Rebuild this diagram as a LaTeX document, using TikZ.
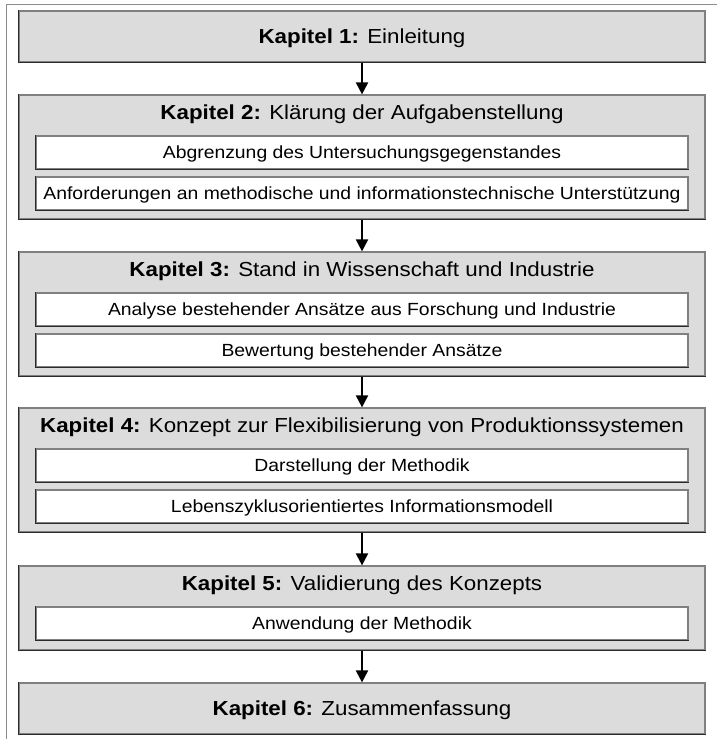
\documentclass[tikz,border=0pt]{standalone}
\usepackage{fontspec}
\setmainfont{Liberation Sans}[FakeStretch=1.1]
\usepackage{tikz}
\usetikzlibrary{arrows.meta,positioning}
\definecolor{Kasten}{HTML}{DCDCDC}
\definecolor{KanteHell}{HTML}{808080}
\definecolor{KanteDunkel}{HTML}{2B2B2B}
\definecolor{Rahmen}{HTML}{8C8C8C}

\begin{document}
\begin{tikzpicture}[x=1pt,y=-1pt,
    kapitel/.style={rectangle,draw=KanteHell,fill=Kasten,line width=1.2pt,minimum width=686pt,inner sep=0pt,
        font=\fontsize{20.3}{22}\selectfont,text height=14.5pt,text depth=0pt,schatten},
    inhalt/.style={rectangle,draw=KanteHell,fill=white,line width=1.2pt,minimum width=652pt,minimum height=33pt,inner sep=0pt,
        font=\fontsize{17.6}{19}\selectfont,text height=12.6pt,text depth=0pt,schatten},
    titel/.style={font=\fontsize{20.3}{22}\selectfont,inner sep=0pt,anchor=base},
    schatten/.style={append after command={(\tikzlastnode.north west) edge[draw=KanteDunkel,line width=1.2pt] (\tikzlastnode.south west)
        (\tikzlastnode.south west) edge[draw=KanteDunkel,line width=1.2pt] (\tikzlastnode.south east)}},
    pfeil/.style={-{Triangle[width=12pt,length=12pt]},line width=2pt,draw=black}
]
\useasboundingbox (0,0) rectangle (717,739);
\draw[Rahmen,line width=1.5pt] (717,4.5) -- (6.5,4.5) -- (6.5,739);

% Kapitel 1
\node[kapitel,minimum height=51pt] (k1) at (362,36.5) {\textbf{Kapitel 1:} Einleitung};

% Kapitel 2
\node[kapitel,minimum height=124pt] (k2) at (362,157) {};
\node[titel] (t2) at (362,119.5) {\textbf{Kapitel 2:} Klärung der Aufgabenstellung};
\node[inhalt] (a2) at (362,152.5) {Abgrenzung des Untersuchungsgegenstandes};
\node[inhalt] (b2) at (362,193.5) {Anforderungen an methodische und informationstechnische Unterstützung};

% Kapitel 3
\node[kapitel,minimum height=124pt] (k3) at (362,314) {};
\node[titel] (t3) at (362,276.5) {\textbf{Kapitel 3:} Stand in Wissenschaft und Industrie};
\node[inhalt] (a3) at (362,309.5) {Analyse bestehender Ansätze aus Forschung und Industrie};
\node[inhalt] (b3) at (362,350.5) {Bewertung bestehender Ansätze};

% Kapitel 4
\node[kapitel,minimum height=124pt] (k4) at (362,470) {};
\node[titel] (t4) at (362,432.5) {\textbf{Kapitel 4:} Konzept zur Flexibilisierung von Produktionssystemen};
\node[inhalt] (a4) at (362,465.5) {Darstellung der Methodik};
\node[inhalt] (b4) at (362,506.5) {Lebenszyklusorientiertes Informationsmodell};

% Kapitel 5
\node[kapitel,minimum height=84pt] (k5) at (362,608) {};
\node[titel] (t5) at (362,590.5) {\textbf{Kapitel 5:} Validierung des Konzepts};
\node[inhalt] (a5) at (362,623.5) {Anwendung der Methodik};

% Kapitel 6
\node[kapitel,minimum height=51pt] (k6) at (362,708.5) {\textbf{Kapitel 6:} Zusammenfassung};

% Pfeile
\draw[pfeil] (k1.south) -- (k2.north);
\draw[pfeil] (k2.south) -- (k3.north);
\draw[pfeil] (k3.south) -- (k4.north);
\draw[pfeil] (k4.south) -- (k5.north);
\draw[pfeil] (k5.south) -- (k6.north);
\end{tikzpicture}
\end{document}
